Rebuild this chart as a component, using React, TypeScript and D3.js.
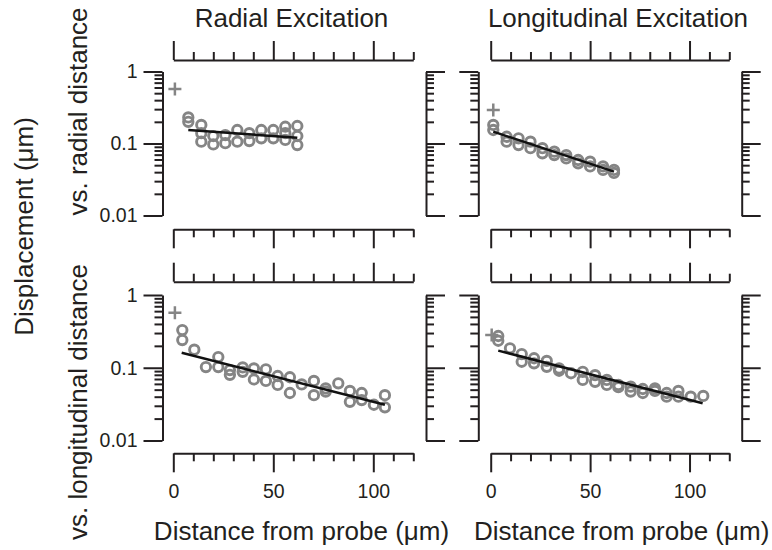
import { useRef, useEffect } from 'react';
import * as d3 from 'd3';

const W = 772;
const H = 550;
const FONT = '"Liberation Sans", Arial, Helvetica, sans-serif';
const INK = '#231f20';
const GREY = '#858585';

// Radial excitation, displacement vs. radial distance
const rrX = [7.5, 7.5, 14, 14, 14, 20, 20, 26, 26, 32, 32, 38, 38, 44, 44, 50, 50, 56, 56, 56, 62, 62, 62];
const rrY = [0.23, 0.2, 0.181, 0.139, 0.106, 0.127, 0.097, 0.131, 0.101, 0.154, 0.106, 0.139, 0.108, 0.154, 0.118, 0.154, 0.118, 0.171, 0.139, 0.112, 0.175, 0.127, 0.095];
const rrPlus = [0.8, 0.57];
const rrFitX = [7.5, 62];
const rrFitY = [0.154, 0.12];

// Longitudinal excitation, displacement vs. radial distance
const lrX = [1.3, 1.3, 8, 8, 14, 14, 20, 20, 26, 26, 32, 32, 38, 38, 44, 44, 50, 50, 56.5, 56.5, 62, 62];
const lrY = [0.181, 0.154, 0.124, 0.106, 0.118, 0.095, 0.106, 0.086, 0.086, 0.073, 0.077, 0.069, 0.069, 0.062, 0.059, 0.053, 0.056, 0.048, 0.048, 0.043, 0.043, 0.039];
const lrPlus = [1.3, 0.292];
const lrFitX = [1.3, 62];
const lrFitY = [0.146, 0.0406];

// Radial excitation, displacement vs. longitudinal distance
const rlX = [4.5, 4.5, 10.5, 16.3, 22.5, 22.5, 28.3, 28.3, 34.7, 34.7, 40.3, 40.3, 46.3, 46.3, 52.2, 52.2, 58.3, 58.3, 64.2, 70.3, 70.3, 76.2, 76.2, 82.5, 88.3, 88.3, 94.2, 94.2, 100.3, 105.8, 105.8];
const rlY = [0.33, 0.24, 0.177, 0.102, 0.14, 0.102, 0.093, 0.08, 0.101, 0.088, 0.098, 0.069, 0.095, 0.066, 0.077, 0.058, 0.074, 0.045, 0.059, 0.066, 0.042, 0.052, 0.047, 0.061, 0.048, 0.034, 0.045, 0.036, 0.031, 0.042, 0.0286];
const rlPlus = [0.8, 0.571];
const rlFitX = [4.2, 105.8];
const rlFitY = [0.161, 0.031];

// Longitudinal excitation, displacement vs. longitudinal distance
const llX = [3.8, 3.8, 9.7, 15.6, 15.6, 21.8, 21.8, 28.2, 28.2, 34.4, 34.4, 40.4, 46.3, 46.3, 52.5, 52.5, 58.4, 58.4, 64.2, 64.2, 70.4, 70.4, 76.5, 76.5, 82.6, 82.6, 88.5, 88.5, 94.4, 94.4, 100.6, 106.9];
const llY = [0.273, 0.235, 0.185, 0.154, 0.121, 0.135, 0.115, 0.124, 0.103, 0.098, 0.091, 0.084, 0.088, 0.068, 0.079, 0.064, 0.068, 0.058, 0.058, 0.054, 0.055, 0.047, 0.051, 0.045, 0.052, 0.048, 0.045, 0.04, 0.048, 0.04, 0.04, 0.041];
const llPlus = [0.5, 0.282];
const llFitX = [3.8, 106.6];
const llFitY = [0.172, 0.0325];

// Ticks
const xDomain = [0, 120];
const yDomain = [0.01, 1];
const xMajor = [0, 50, 100];
const xMinor = [10, 20, 30, 40, 60, 70, 80, 90, 110, 120];
const yMajor = [0.01, 0.1, 1];
const yMinor = [0.02, 0.03, 0.04, 0.05, 0.06, 0.07, 0.08, 0.09, 0.2, 0.3, 0.4, 0.5, 0.6, 0.7, 0.8, 0.9];
const yLabels = ['0.01', '0.1', '1'];

const colTitles = ['Radial Excitation', 'Longitudinal Excitation'];
const rowTitles = ['vs. radial distance', 'vs. longitudinal distance'];

// layout
const cols = [
  { range: [173.3, 413.3], axL: 162.5, axR: 426, title: 291.5, xlab: 301.5 },
  { range: [490.7, 729.3], axL: 478.3, axR: 741.7, title: 618, xlab: 621.7 },
];
const rows = [
  { range: [215.5, 71.5], hTop: 60, hBot: 229.3, label: 111.5 },
  { range: [440.5, 295], hTop: 281.7, hBot: 453.3, label: 402 },
];

const panels = [
  { r: 0, c: 0, xs: rrX, ys: rrY, plus: rrPlus, fx: rrFitX, fy: rrFitY },
  { r: 0, c: 1, xs: lrX, ys: lrY, plus: lrPlus, fx: lrFitX, fy: lrFitY },
  { r: 1, c: 0, xs: rlX, ys: rlY, plus: rlPlus, fx: rlFitX, fy: rlFitY },
  { r: 1, c: 1, xs: llX, ys: llY, plus: llPlus, fx: llFitX, fy: llFitY },
];

const MAJOR = 19;
const MINOR = 8;

function styleAxis(sel, showDomain) {
  sel.attr('color', INK);
  if (!showDomain) sel.select('.domain').remove();
  sel.select('.domain').attr('stroke-width', 2);
  sel.selectAll('.tick line').attr('stroke-width', 2);
  sel.selectAll('.tick text')
    .attr('font-family', FONT)
    .attr('font-size', 19.5)
    .attr('fill', INK);
}

function App() {
  const svgRef = useRef();

  useEffect(() => {
    const svg = d3.select(svgRef.current);
    svg.selectAll('*').remove();

    panels.forEach(p => {
      const col = cols[p.c];
      const row = rows[p.r];
      const x = d3.scaleLinear().domain(xDomain).range(col.range);
      const y = d3.scaleLog().domain(yDomain).range(row.range);
      const g = svg.append('g');

      // horizontal axes (top: ticks up, bottom: ticks down)
      const topG = g.append('g').attr('transform', `translate(0,${row.hTop})`);
      topG.append('g').call(d3.axisTop(x).tickValues(xMajor).tickSize(MAJOR).tickSizeOuter(0).tickFormat(''))
        .call(s => styleAxis(s, true));
      topG.append('g').call(d3.axisTop(x).tickValues(xMinor).tickSize(MINOR).tickSizeOuter(0).tickFormat(''))
        .call(s => styleAxis(s, false));

      const botG = g.append('g').attr('transform', `translate(0,${row.hBot})`);
      const showX = p.r === 1;
      botG.append('g').call(d3.axisBottom(x).tickValues(xMajor).tickSize(MAJOR).tickSizeOuter(0)
        .tickPadding(12).tickFormat(showX ? d3.format('d') : ''))
        .call(s => styleAxis(s, true));
      botG.append('g').call(d3.axisBottom(x).tickValues(xMinor).tickSize(MINOR).tickSizeOuter(0).tickFormat(''))
        .call(s => styleAxis(s, false));

      // vertical axes (left: ticks left, right: ticks right)
      const showY = p.c === 0;
      const leftG = g.append('g').attr('transform', `translate(${col.axL},0)`);
      leftG.append('g').call(d3.axisLeft(y).tickValues(yMajor).tickSize(MAJOR).tickSizeOuter(0).tickPadding(6)
        .tickFormat((d, i) => (showY ? yLabels[i] : '')))
        .call(s => styleAxis(s, true));
      leftG.append('g').call(d3.axisLeft(y).tickValues(yMinor).tickSize(MINOR).tickSizeOuter(0).tickFormat(''))
        .call(s => styleAxis(s, false));

      const rightG = g.append('g').attr('transform', `translate(${col.axR},0)`);
      rightG.append('g').call(d3.axisRight(y).tickValues(yMajor).tickSize(MAJOR).tickSizeOuter(0).tickFormat(''))
        .call(s => styleAxis(s, true));
      rightG.append('g').call(d3.axisRight(y).tickValues(yMinor).tickSize(MINOR).tickSizeOuter(0).tickFormat(''))
        .call(s => styleAxis(s, false));

      // data circles
      g.append('g')
        .selectAll('circle')
        .data(p.xs.map((v, i) => [v, p.ys[i]]))
        .join('circle')
        .attr('cx', d => x(d[0]))
        .attr('cy', d => y(d[1]))
        .attr('r', 4.7)
        .attr('fill', 'none')
        .attr('stroke', GREY)
        .attr('stroke-width', 2.9);

      // plus marker
      const px = x(p.plus[0]);
      const py = y(p.plus[1]);
      g.append('path')
        .attr('d', `M${px - 6.5},${py}H${px + 6.5}M${px},${py - 6.5}V${py + 6.5}`)
        .attr('stroke', GREY)
        .attr('stroke-width', 2.5)
        .attr('fill', 'none');

      // exponential fit
      const line = d3.line().x(d => x(d[0])).y(d => y(d[1]));
      g.append('path')
        .attr('d', line(p.fx.map((v, i) => [v, p.fy[i]])))
        .attr('stroke', '#111')
        .attr('stroke-width', 2.5)
        .attr('fill', 'none');
    });

    // titles and labels
    const txt = svg.append('g')
      .attr('font-family', FONT)
      .attr('font-size', 26)
      .attr('fill', INK)
      .attr('text-anchor', 'middle');

    cols.forEach((c, i) => {
      txt.append('text').attr('x', c.title).attr('y', 27).text(colTitles[i]);
      txt.append('text').attr('x', c.xlab).attr('y', 540).text('Distance from probe (μm)');
    });

    rows.forEach((r, i) => {
      txt.append('text')
        .attr('transform', `translate(87,${r.label}) rotate(-90)`)
        .text(rowTitles[i]);
    });

    txt.append('text')
      .attr('transform', 'translate(33,226.5) rotate(-90)')
      .text('Displacement (μm)');
  }, []);

  return (
    <svg
      ref={svgRef}
      width={W}
      height={H}
      style={{ position: 'absolute', left: 0, top: 0, background: '#fff' }}
    />
  );
}

export default App;
